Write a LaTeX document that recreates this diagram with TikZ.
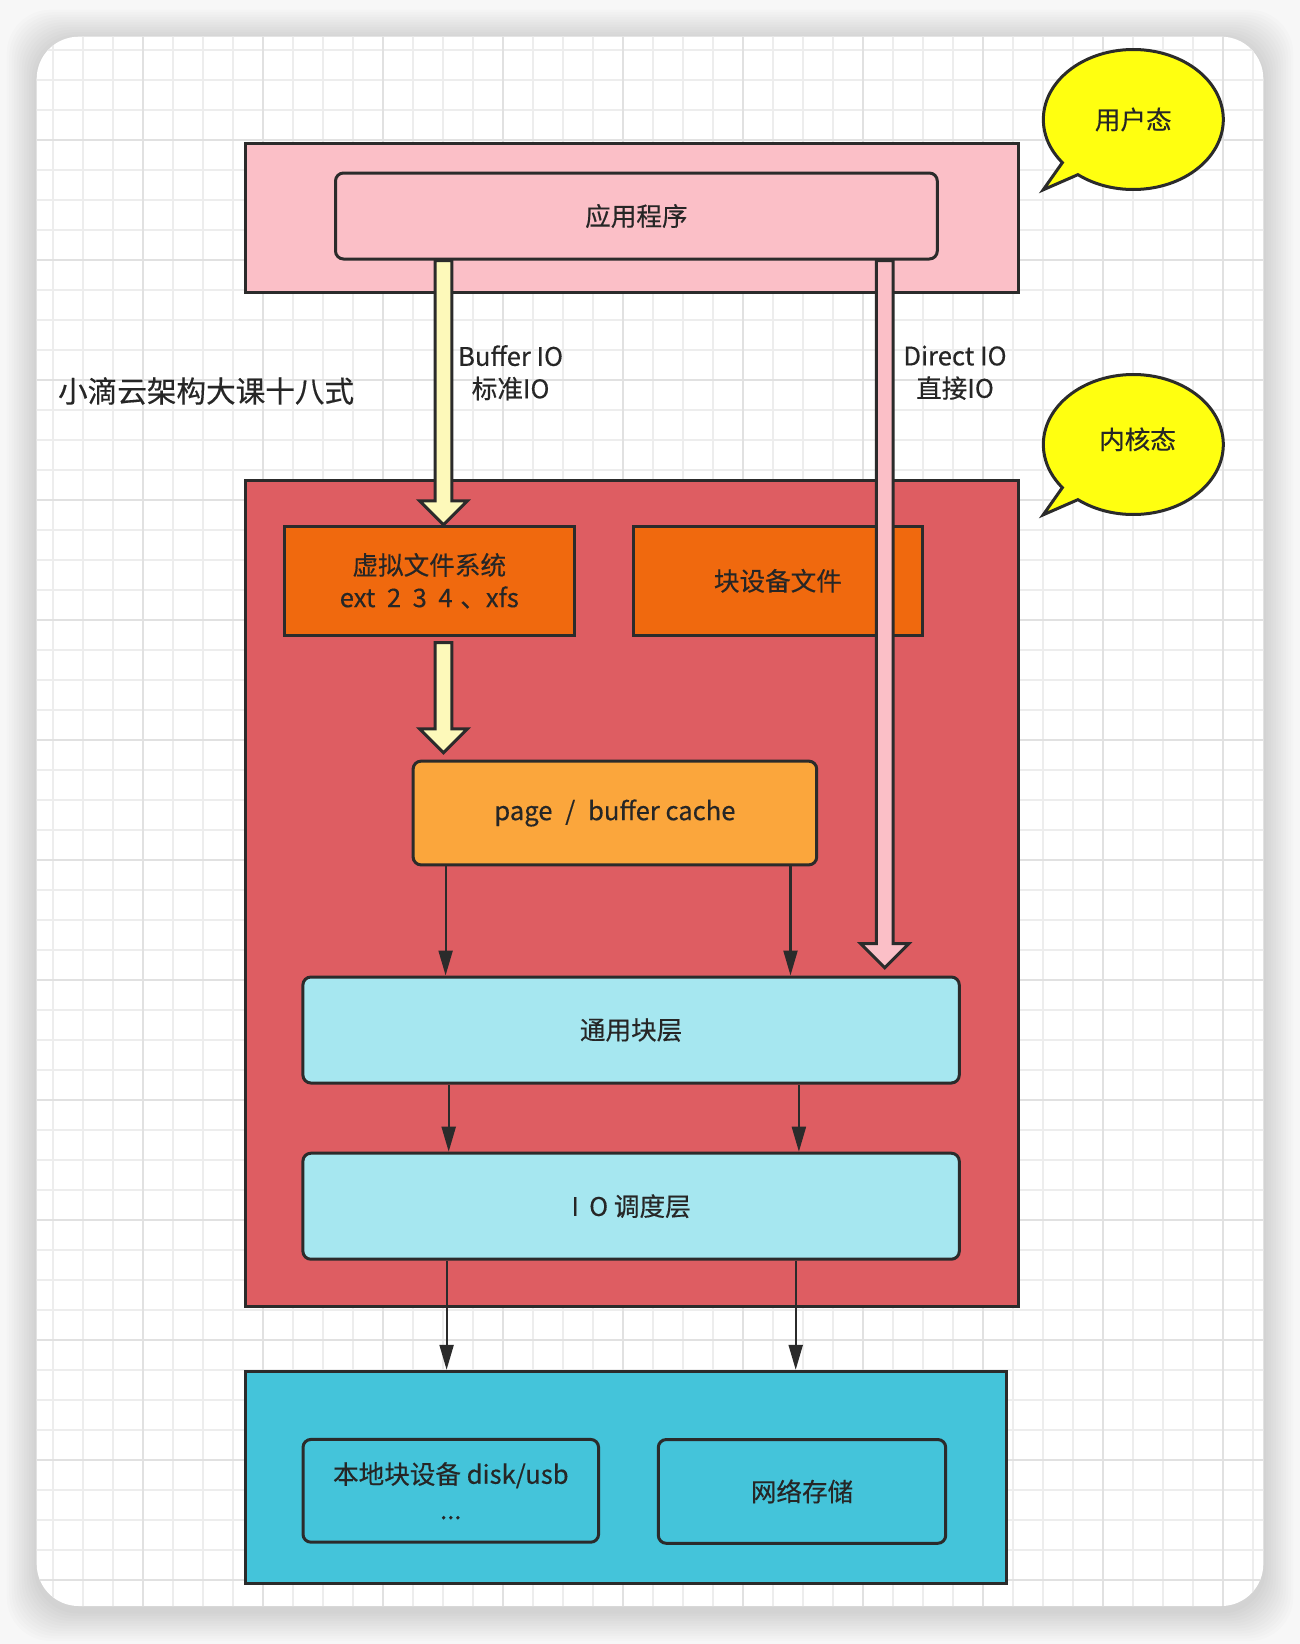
\documentclass[tikz,border=0pt]{standalone}
\usepackage{fontspec}
\setmainfont{Noto Sans CJK SC}[FakeBold=0.35]
\usetikzlibrary{arrows.meta,calc}
\definecolor{edge}{HTML}{2B2B2B}
\definecolor{txt}{HTML}{262626}
\definecolor{userpink}{HTML}{FBBFC7}
\definecolor{kernred}{HTML}{DE5D62}
\definecolor{vfsorange}{HTML}{F0690E}
\definecolor{cacheorange}{HTML}{FBA63C}
\definecolor{lightcyan}{HTML}{A6E7F0}
\definecolor{devcyan}{HTML}{44C4DA}
\definecolor{paleyellow}{HTML}{FDF9BA}
\definecolor{bubbleyellow}{HTML}{FFFF10}
\definecolor{gridminor}{HTML}{EDEDED}
\definecolor{gridmajor}{HTML}{E1E1E1}
\newcommand\fatarrow[3]{%
  \draw[fatline, fill=#3] let \p1=(#1), \p2=(#2) in
    (\x1-4.2pt,\y1) -- (\x1-4.2pt,\y2+12pt) -- (\x1-12pt,\y2+12pt) -- (\x1,\y2)
    -- (\x1+12pt,\y2+12pt) -- (\x1+4.2pt,\y2+12pt) -- (\x1+4.2pt,\y1) -- cycle;}
\begin{document}
\begin{tikzpicture}[x=0.5pt,y=-0.5pt,
  lbl/.style={text=txt, font=\fontsize{12.8}{16.2}\selectfont, align=center, inner sep=0pt},
  box/.style={lbl, draw=edge, line width=1.5pt},
  rbox/.style={box, rounded corners=4pt},
  fatline/.style={draw=edge, line width=1.5pt, line join=miter},
  thinarrow/.style={draw=edge, line width=1.1pt, -{Triangle[length=12.5pt,width=7pt]}},
  bubble/.style={draw=edge, fill=bubbleyellow, line width=1.5pt, line join=miter}]
\useasboundingbox (0,0) rectangle (1300,1644);
\fill[white!97!black] (0,0) rectangle (1300,1644);
% card shadow
\foreach \i in {1,...,12}
  \fill[black, opacity=0.013, rounded corners=22pt]
    (36.7-2.5*\i, 36.7-2.5*\i+3) rectangle (1263.3+2.5*\i, 1606+2.5*\i+5);
\fill[white, rounded corners=21pt] (36.7,36.7) rectangle (1263.3,1606);
\begin{scope}
  \clip[rounded corners=21pt] (36.7,36.7) rectangle (1263.3,1606);
  \foreach \gx in {23,53,...,1300} \draw[gridminor, line width=0.8pt] (\gx,0) -- (\gx,1644);
  \foreach \gy in {20,50,...,1644} \draw[gridminor, line width=0.8pt] (0,\gy) -- (1300,\gy);
  \foreach \gx in {23,143,...,1300} \draw[gridmajor, line width=1pt] (\gx,0) -- (\gx,1644);
  \foreach \gy in {20,140,...,1644} \draw[gridmajor, line width=1pt] (0,\gy) -- (1300,\gy);
\end{scope}

% user space
\node[box, fill=userpink, minimum width=386.4pt, minimum height=74.5pt] (user) at (631.7,218) {};
\node[rbox, fill=userpink, minimum width=300.9pt, minimum height=43pt] (app) at (636.4,216) {应用程序};

% kernel space
\node[box, fill=kernred, minimum width=386.4pt, minimum height=413pt] (kernel) at (631.7,893.3) {};
\node[box, fill=vfsorange, minimum width=145.2pt, minimum height=54.5pt] (vfs) at (429.3,580.8) {虚拟文件系统\\ext\hspace{0.45em}2\hspace{0.45em}3\hspace{0.45em}4\hspace{0.3em}、xfs};
\node[box, fill=vfsorange, minimum width=144.7pt, minimum height=54.5pt] (bdf) at (777.9,580.8) {块设备文件};
\node[rbox, fill=cacheorange, minimum width=201.8pt, minimum height=51.9pt] (cache) at (614.9,813) {page\hspace{0.5em}/\hspace{0.5em}buffer cache};
\node[rbox, fill=lightcyan, minimum width=328.2pt, minimum height=53pt] (gbl) at (631.1,1030) {通用块层};
\node[rbox, fill=lightcyan, minimum width=328.2pt, minimum height=53pt] (ios) at (631.1,1206.2) {I\hspace{0.4em}O 调度层};

% devices
\node[box, fill=devcyan, minimum width=380.6pt, minimum height=105.9pt] (dev) at (625.9,1477.2) {};
\node[rbox, fill=devcyan, minimum width=147.8pt, minimum height=51.4pt] (local) at (450.8,1490.8) {本地块设备 disk/usb\\[1.5pt]...};
\node[rbox, fill=devcyan, minimum width=143.7pt, minimum height=51.9pt] (net) at (802,1491.4) {网络存储};

% column coordinates
\coordinate (cbuf) at (443.5,0);
\coordinate (cdir) at (884.8,0);
\coordinate (ca1) at (445.6,0);
\coordinate (ca2) at (790.5,0);
\coordinate (cb1) at (448.7,0);
\coordinate (cb2) at (798.9,0);
\coordinate (cc1) at (446.6,0);
\coordinate (cc2) at (795.7,0);
\coordinate (y2top) at (443.5,642.7);
\coordinate (y2tip) at (443.5,752.8);
\coordinate (dirtip) at (884.8,967.7);

% thin arrows
\draw[thinarrow] (cache.south -| ca1) -- (gbl.north -| ca1);
\draw[thinarrow] (cache.south -| ca2) -- (gbl.north -| ca2);
\draw[thinarrow] (gbl.south -| cb1) -- (ios.north -| cb1);
\draw[thinarrow] (gbl.south -| cb2) -- (ios.north -| cb2);
\draw[thinarrow] (ios.south -| cc1) -- (dev.north -| cc1);
\draw[thinarrow] (ios.south -| cc2) -- (dev.north -| cc2);

% fat arrows
\fatarrow{app.south -| cbuf}{vfs.north -| cbuf}{paleyellow}
\fatarrow{y2top}{y2tip}{paleyellow}
\fatarrow{app.south -| cdir}{dirtip}{userpink}

% arrow labels
\node[lbl] (lbuf) at (510.6,372.7) {Buffer IO\\标准IO};
\node[lbl] (ldir) at (955,372.7) {Direct IO\\直接IO};

% title
\node[lbl, anchor=west, font=\fontsize{14.8}{18}\selectfont] (title) at (57.7,391) {小滴云架构大课十八式};

% speech bubbles
\coordinate (b1c) at (1133.3,119.5);
\coordinate (b1tip) at (1043.2,189.8);
\draw[bubble] (b1tip) -- ([shift={(128:90 and 70)}]b1c)
  arc[start angle=128, end angle=-218, x radius=90, y radius=70] -- cycle;
\node[lbl] (user lbl) at (1133.3,119.5) {用户态};
\coordinate (b2c) at (1133.3,444.5);
\coordinate (b2tip) at (1043.2,514.8);
\draw[bubble] (b2tip) -- ([shift={(128:90 and 70)}]b2c)
  arc[start angle=128, end angle=-218, x radius=90, y radius=70] -- cycle;
\node[lbl] (kern lbl) at (1137.5,439.3) {内核态};
\end{tikzpicture}
\end{document}
